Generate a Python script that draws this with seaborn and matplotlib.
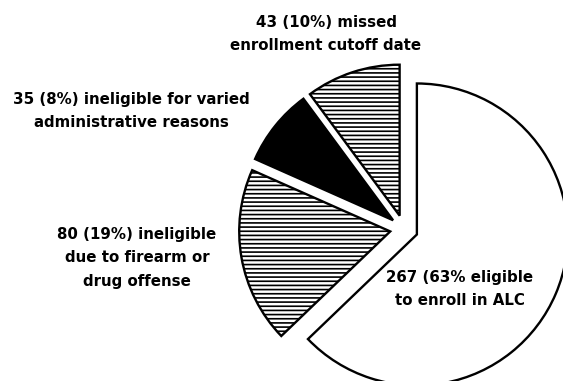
import matplotlib
matplotlib.use("Agg")
import matplotlib.pyplot as plt
import seaborn as sns

# Data
counts = [43, 35, 80, 267]
labels = [
    "43 (10%) missed\nenrollment cutoff date",
    "35 (8%) ineligible for varied\nadministrative reasons",
    "80 (19%) ineligible\ndue to firearm or\ndrug offense",
    "267 (63% eligible\nto enroll in ALC",
]
facecolors = ["white", "black", "white", "white"]
hatches = ["----", None, "----", None]
explode = [14, 14, 14, 14]

sns.set_theme(style="white")
plt.rcParams["font.family"] = ["DejaVu Sans"]
plt.rcParams["hatch.linewidth"] = 1.2
plt.rcParams["hatch.color"] = "black"

W, H = 563, 381
fig = plt.figure(figsize=(W / 100, H / 100), dpi=100)
ax = fig.add_axes([0, 0, 1, 1])

wedges, _ = ax.pie(
    counts,
    startangle=90,
    counterclock=True,
    colors=facecolors,
    explode=explode,
    center=(404, H - 229),
    radius=151,
    wedgeprops=dict(edgecolor="black", linewidth=1.7),
    frame=True,
)
for w, h in zip(wedges, hatches):
    if h:
        w.set_hatch(h)

ax.set_xlim(0, W)
ax.set_ylim(0, H)
ax.set_aspect("equal")
ax.axis("off")

label_pos = [(326, 34), (131, 111), (137, 258), (460, 289)]
for txt, (x, y) in zip(labels, label_pos):
    ax.text(x, H - y, txt, ha="center", va="center", fontsize=10.8,
            fontweight="bold", linespacing=1.7, color="black")

fig.savefig("out.png", dpi=100, facecolor="white")
